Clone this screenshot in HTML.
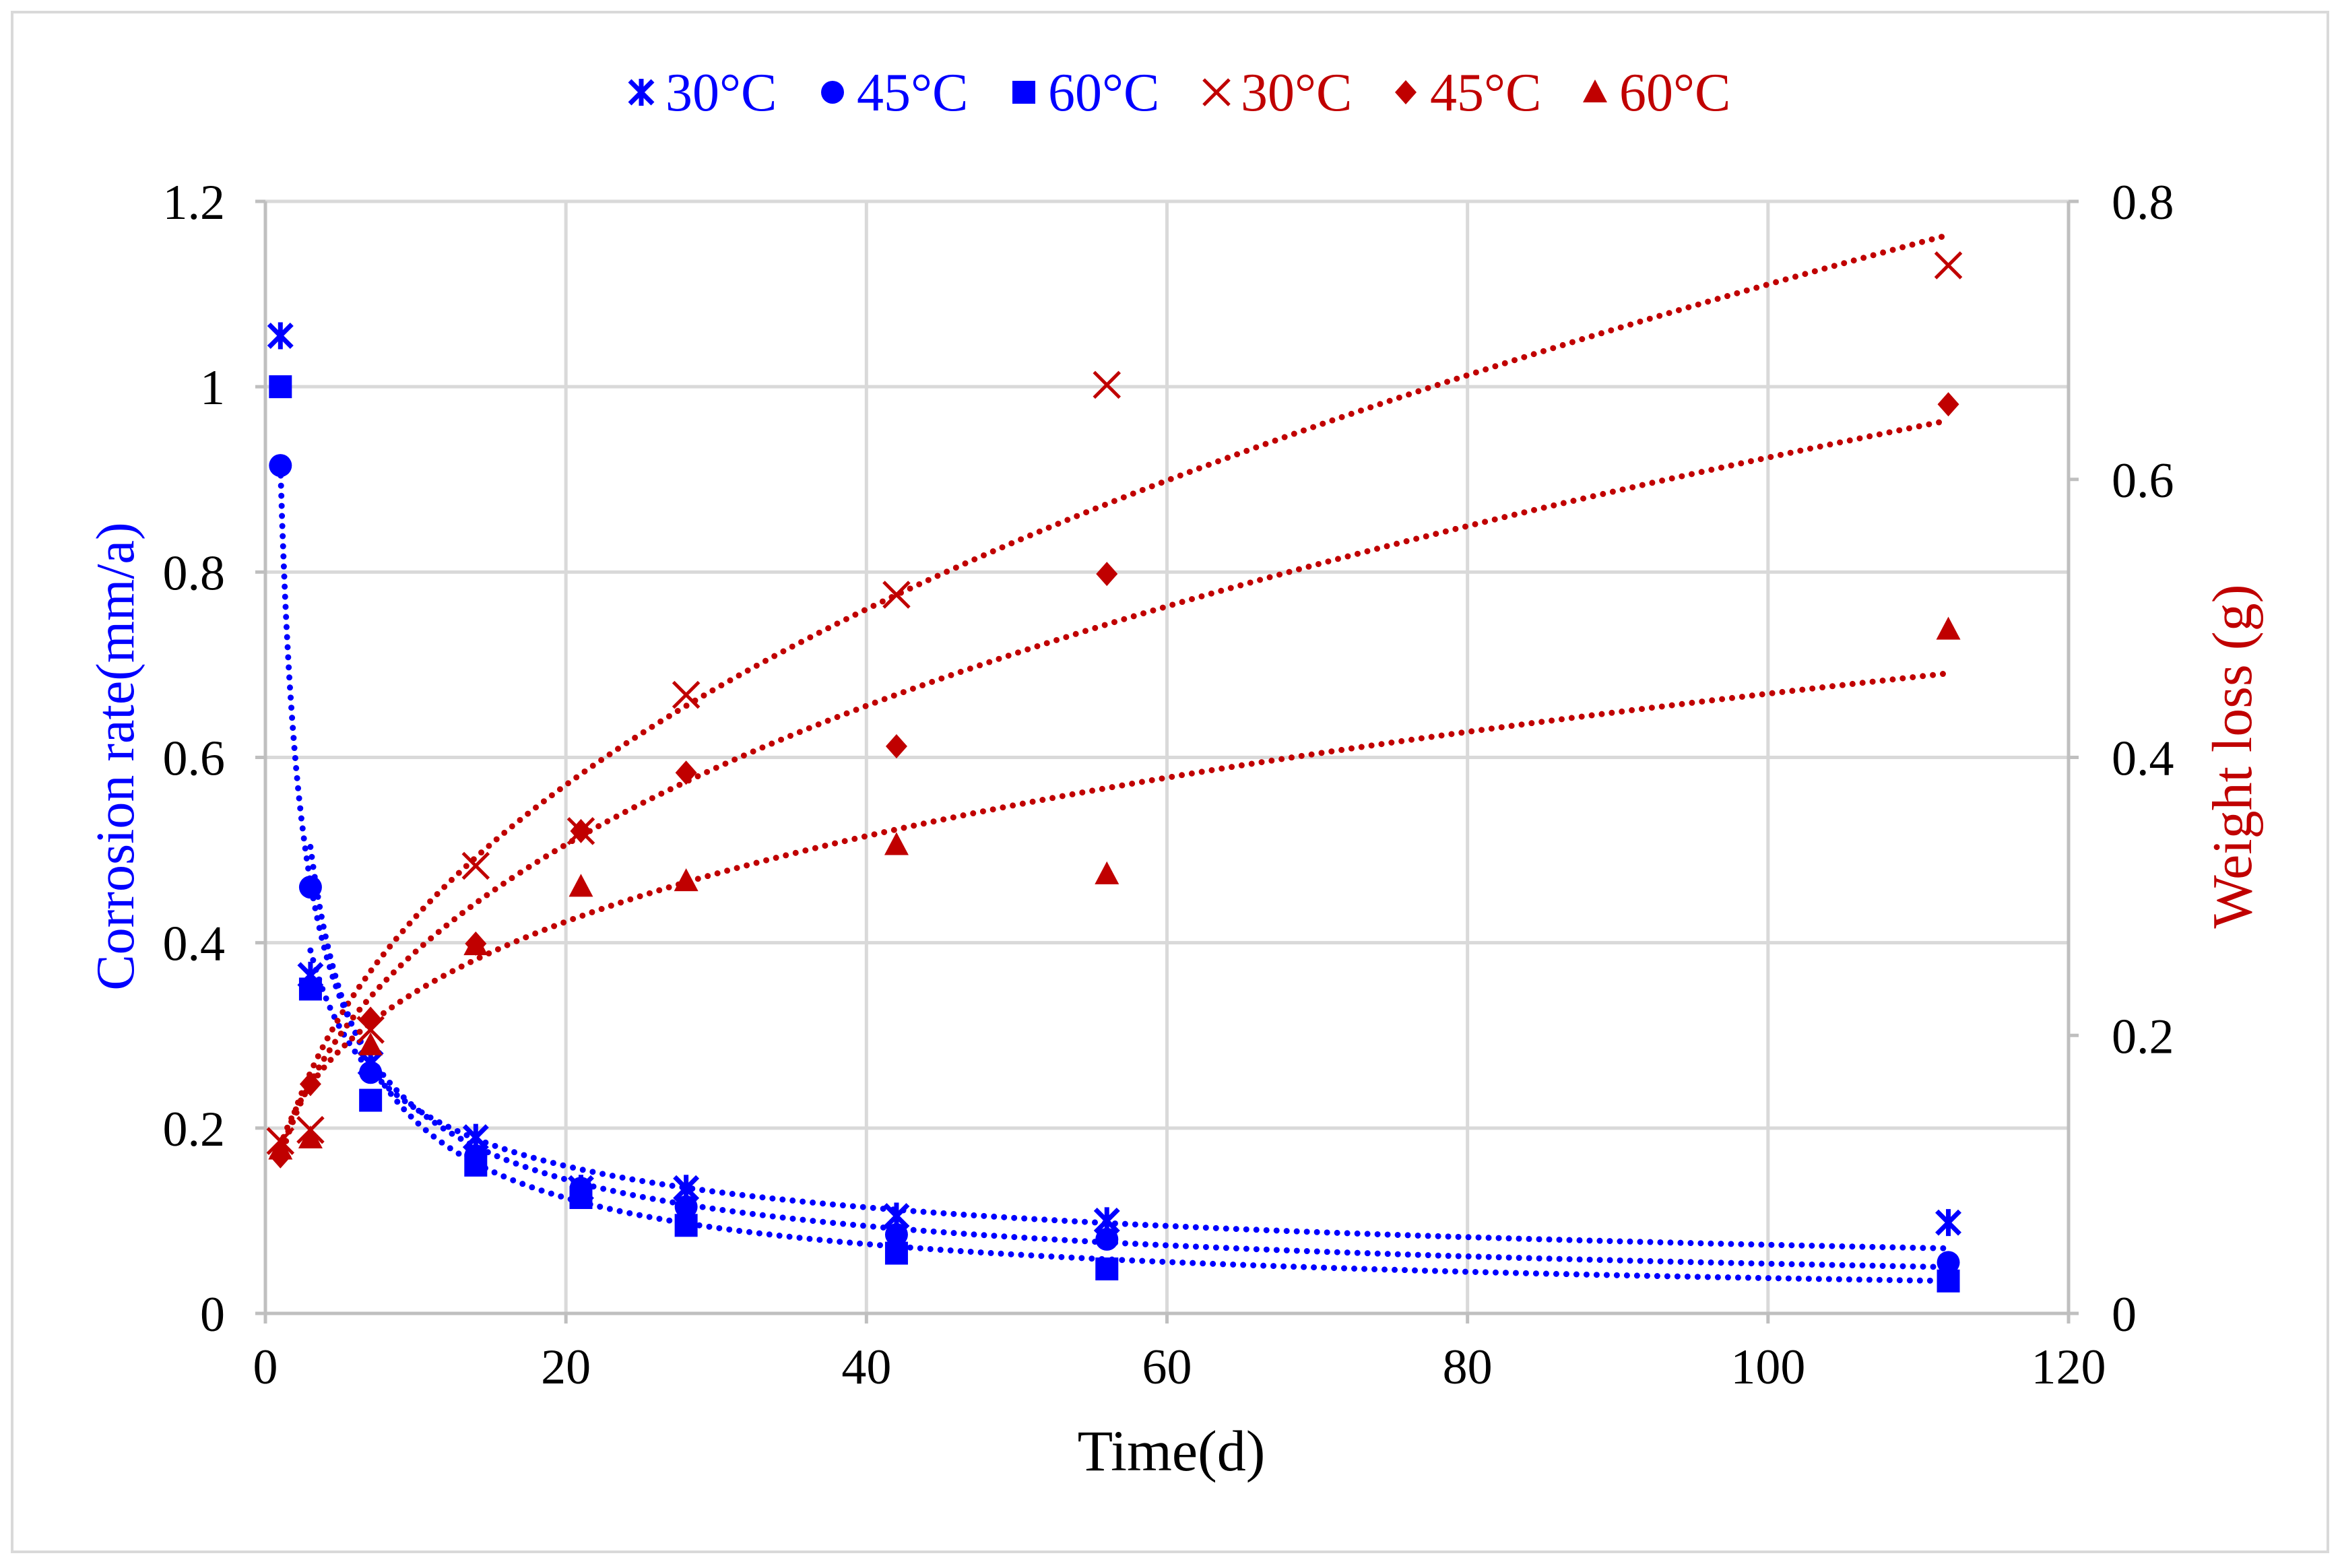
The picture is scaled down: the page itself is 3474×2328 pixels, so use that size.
<!DOCTYPE html>
<html><head><meta charset="utf-8"><style>
html,body{margin:0;padding:0;background:#fff}
svg{display:block;font-family:"Liberation Serif",serif}
</style></head><body>
<svg id="chart" width="3474" height="2328" viewBox="0 0 3474 2328" xmlns="http://www.w3.org/2000/svg">
<rect x="18" y="18" width="3438" height="2286" fill="#fff" stroke="#d9d9d9" stroke-width="4"/>
<g id="grid"></g><g id="axes"></g><g id="trends"></g><g id="marks"></g><g id="legend"></g>
<text transform="translate(198,1123) rotate(-90)" text-anchor="middle" font-size="80" fill="#0000ff">Corrosion rate(mm/a)</text>
<text transform="translate(3342,1123) rotate(-90)" text-anchor="middle" font-size="84" fill="#c00000">Weight loss (g)</text>
<text x="1739" y="2183" text-anchor="middle" font-size="86" fill="#000">Time(d)</text>
</svg>
<script>
const days=[1,3,7,14,21,28,42,56,112];
const rate30=[1.055,0.365,0.27,0.19,0.135,0.135,0.105,0.1,0.098];
const rate45=[0.915,0.46,0.26,0.17,0.135,0.115,0.085,0.08,0.055];
const rate60=[1.0,0.35,0.23,0.16,0.125,0.095,0.065,0.048,0.035];
const loss30=[0.124,0.132,0.204,0.322,0.347,0.445,0.517,0.668,0.754];
const loss45=[0.113,0.165,0.212,0.266,0.347,0.389,0.408,0.532,0.654];
const loss60=[0.118,0.126,0.193,0.265,0.307,0.311,0.337,0.316,0.492];
const rateFitA=[0.66,0.915,1.13];
const rateFitB=[-0.475,-0.616,-0.736];
const rateFitStart=[3,1,3];
const lossFitA=[0.11,0.11,0.12];
const lossFitB=[0.414,0.374,0.285];
const xTicks=[0,20,40,60,80,100,120];
const yLeftTicks=[0,0.2,0.4,0.6,0.8,1,1.2];
const yRightTicks=[0,0.2,0.4,0.6,0.8];
const legendLabels=["30°C","45°C","60°C","30°C","45°C","60°C"];

const NS="http://www.w3.org/2000/svg";
const X0=394,X1=3071,Y0=1950,Y1=299;
const xs=v=>X0+(v/120)*(X1-X0);
const yl=v=>Y0-(v/1.2)*(Y0-Y1);
const yr=v=>Y0-(v/0.8)*(Y0-Y1);
function mk(tag,attrs,parent){const e=document.createElementNS(NS,tag);for(const k in attrs)e.setAttribute(k,attrs[k]);document.getElementById(parent).appendChild(e);return e;}
const BLUE="#0000ff",RED="#c00000";

xTicks.forEach(t=>{
  if(t>0){const g=mk('line',{x1:xs(t),x2:xs(t),y1:Y1,y2:Y0,stroke:'#d9d9d9','stroke-width':5},'grid');
  
  }
  const tk=mk('line',{x1:xs(t),x2:xs(t),y1:Y0,y2:Y0+15,stroke:'#bfbfbf','stroke-width':5},'axes');
  
  
  const l=mk('text',{x:xs(t),y:Y0+104,'text-anchor':'middle','font-size':74},'axes');l.textContent=t;
  
  
});
yLeftTicks.forEach(t=>{
  if(t>0){const g=mk('line',{x1:X0,x2:X1,y1:yl(t),y2:yl(t),stroke:'#d9d9d9','stroke-width':5},'grid');
  
  }
  const tk=mk('line',{x1:X0-15,x2:X0,y1:yl(t),y2:yl(t),stroke:'#bfbfbf','stroke-width':5},'axes');
  
  
  const l=mk('text',{x:X0-60,y:yl(t)+26,'text-anchor':'end','font-size':74},'axes');l.textContent=t;
  
  
});
yRightTicks.forEach(t=>{
  const tk=mk('line',{x1:X1,x2:X1+15,y1:yr(t),y2:yr(t),stroke:'#bfbfbf','stroke-width':5},'axes');
  
  
  const l=mk('text',{x:X1+64,y:yr(t)+26,'text-anchor':'start','font-size':74},'axes');l.textContent=t;
  
  
});
[[X0,Y0,X1,Y0],[X0,Y1,X0,Y0],[X1,Y1,X1,Y0]].forEach(a=>{
  const ax=mk('line',{x1:a[0],y1:a[1],x2:a[2],y2:a[3],stroke:'#bfbfbf','stroke-width':5},'axes');
  
  
});

function trend(a,b,ys,color,name,x0){
  let d='';for(let i=0;i<=400;i++){const x=x0+(112-x0)*Math.pow(i/400,2);d+=(i?'L':'M')+xs(x).toFixed(1)+','+ys(a*Math.pow(x,b)).toFixed(1);}
  const p=mk('path',{d:d,fill:'none',stroke:color,'stroke-width':9,'stroke-linecap':'round','stroke-dasharray':'0 15'},'trends');
  
  
}
for(let i=0;i<3;i++){trend(rateFitA[i],rateFitB[i],yl,BLUE,'rate-trendline',rateFitStart[i]);trend(lossFitA[i],lossFitB[i],yr,RED,'loss-trendline',1);}

function marker(type,cx,cy,color,parent){
  const g=document.createElementNS(NS,'g');document.getElementById(parent).appendChild(g);
  const s=17;let inner='';
  if(type==='star')inner=`<path d="M${cx-s} ${cy-s}L${cx+s} ${cy+s}M${cx-s} ${cy+s}L${cx+s} ${cy-s}M${cx} ${cy-s-3}L${cx} ${cy+s+3}" stroke="${color}" stroke-width="7"/>`;
  if(type==='circle')inner=`<circle cx="${cx}" cy="${cy}" r="17" fill="${color}"/>`;
  if(type==='square')inner=`<rect x="${cx-17}" y="${cy-17}" width="34" height="34" fill="${color}"/>`;
  if(type==='x')inner=`<path d="M${cx-19} ${cy-19}L${cx+19} ${cy+19}M${cx-19} ${cy+19}L${cx+19} ${cy-19}" stroke="${color}" stroke-width="5"/>`;
  if(type==='diamond')inner=`<path d="M${cx} ${cy-18}L${cx+16} ${cy}L${cx} ${cy+18}L${cx-16} ${cy}Z" fill="${color}"/>`;
  if(type==='tri')inner=`<path d="M${cx} ${cy-19}L${cx+18} ${cy+15}L${cx-18} ${cy+15}Z" fill="${color}"/>`;
  g.innerHTML=inner;return g;
}
const series=[[rate30,'star',yl,BLUE],[rate45,'circle',yl,BLUE],[rate60,'square',yl,BLUE],[loss30,'x',yr,RED],[loss45,'diamond',yr,RED],[loss60,'tri',yr,RED]];
series.forEach((s,si)=>{
  s[0].forEach((v,i)=>{
    const g=marker(s[1],xs(days[i]),s[2](v),s[3],'marks');
    
    
  });
});
const legX=[952,1236,1520,1806,2087,2368];
legendLabels.forEach((lab,i)=>{
  const g=marker(series[i][1],legX[i],137,series[i][3],'legend');
  
  
  const t=mk('text',{x:legX[i]+36,y:164,'font-size':80,fill:series[i][3]},'legend');t.textContent=lab;
  
  
});
</script>
</body></html>
